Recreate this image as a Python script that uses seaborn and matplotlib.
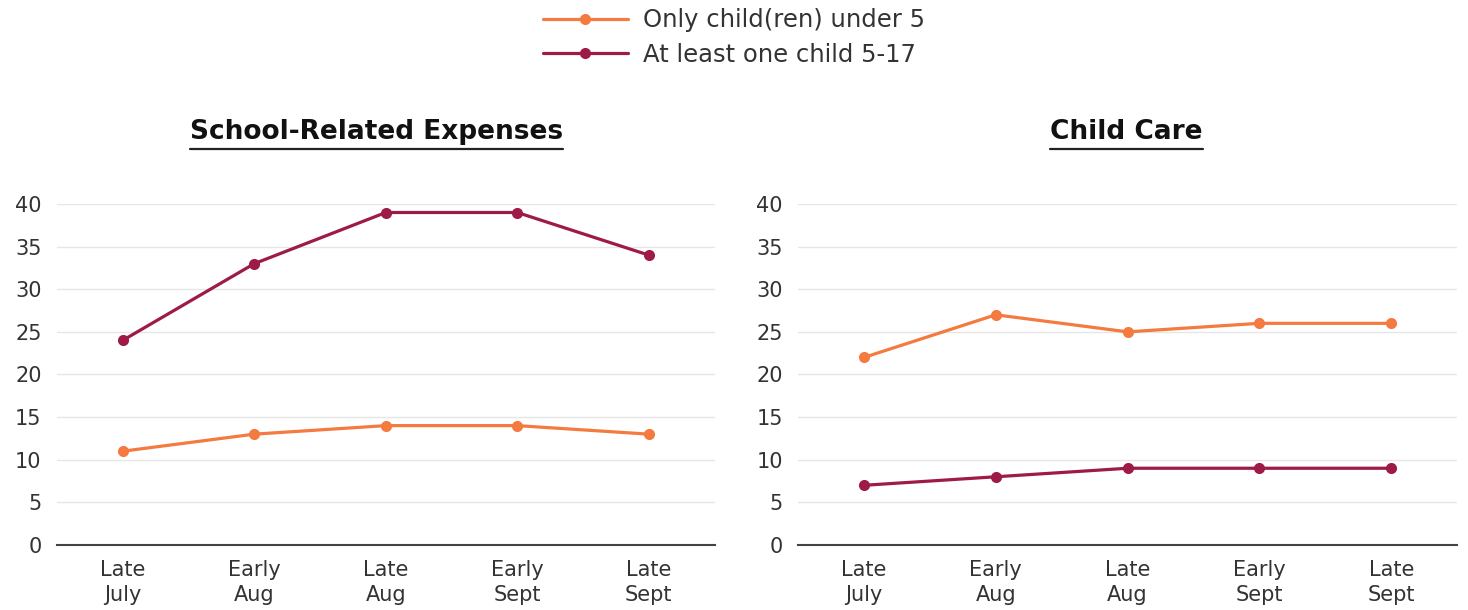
import pandas as pd
import seaborn as sns
import matplotlib.pyplot as plt
from matplotlib.lines import Line2D

periods = ["Late\nJuly", "Early\nAug", "Late\nAug", "Early\nSept", "Late\nSept"]
groups = ["Only child(ren) under 5", "At least one child 5-17"]

school_under5 = [11, 13, 14, 14, 13]
school_5to17 = [24, 33, 39, 39, 34]
care_under5 = [22, 27, 25, 26, 26]
care_5to17 = [7, 8, 9, 9, 9]

colors = {groups[0]: "#F47A40", groups[1]: "#9E1A47"}


def longform(under5, older):
    rows = []
    for i, p in enumerate(periods):
        rows.append({"period": i, "group": groups[0], "value": under5[i]})
        rows.append({"period": i, "group": groups[1], "value": older[i]})
    return pd.DataFrame(rows)


def draw_panel(fig, ax, df, title, tx):
    sns.lineplot(data=df, x="period", y="value", hue="group",
                 hue_order=groups, palette=colors, marker="o",
                 markersize=8, markeredgewidth=0, linewidth=2.3,
                 legend=False, ax=ax)
    ax.set_xlim(-0.5, 4.5)
    ax.set_ylim(0, 40)
    ax.set_yticks(range(0, 41, 5))
    ax.set_xticks(range(len(periods)))
    ax.set_xticklabels(periods)
    ax.set_xlabel("")
    ax.set_ylabel("")
    ax.grid(axis="y", color="#e6e6e6", linewidth=1)
    ax.grid(axis="x", visible=False)
    for s in ["top", "right", "left"]:
        ax.spines[s].set_visible(False)
    ax.spines["bottom"].set_color("#444444")
    ax.spines["bottom"].set_linewidth(1.5)
    ax.tick_params(axis="y", length=0, labelsize=15, labelcolor="#333333",
                   pad=11)
    ax.tick_params(axis="x", direction="in", length=7, width=1,
                   color="#444444", labelsize=15, labelcolor="#333333",
                   pad=11)
    for lbl in ax.get_xticklabels():
        lbl.set_linespacing(1.3)
    for line in ax.lines:
        line.set_clip_on(False)

    # underlined bold title
    t = ax.text(tx, 1.19, title, transform=ax.transAxes, ha="center",
                va="baseline", fontsize=19, fontweight="bold",
                color="#111111")
    fig.canvas.draw()
    bb = t.get_window_extent().transformed(ax.transAxes.inverted())
    ax.add_line(Line2D([bb.x0, bb.x1], [1.16, 1.16], transform=ax.transAxes,
                       color="#222222", linewidth=1.6, clip_on=False))


def main():
    sns.set_style("white")
    plt.rcParams["font.family"] = ["DejaVu Sans"]

    fig = plt.figure(figsize=(14.68, 6.10), dpi=100)
    ax1 = fig.add_axes([0.0388, 0.1066, 0.448, 0.559])
    ax2 = fig.add_axes([0.5436, 0.1066, 0.449, 0.559])

    draw_panel(fig, ax1, longform(school_under5, school_5to17),
               "School-Related Expenses", 0.486)
    draw_panel(fig, ax2, longform(care_under5, care_5to17), "Child Care",
               0.498)

    handles = [Line2D([], [], color=colors[g], marker="o", markersize=8,
                      markeredgewidth=0, linewidth=2.3) for g in groups]
    fig.legend(handles, groups, loc="upper center",
               bbox_to_anchor=(0.5, 1.022), frameon=False, fontsize=17.5,
               handlelength=3.5, handletextpad=0.65, labelcolor="#333333",
               labelspacing=0.42)

    fig.savefig("out.png", dpi=100)


if __name__ == "__main__":
    main()
